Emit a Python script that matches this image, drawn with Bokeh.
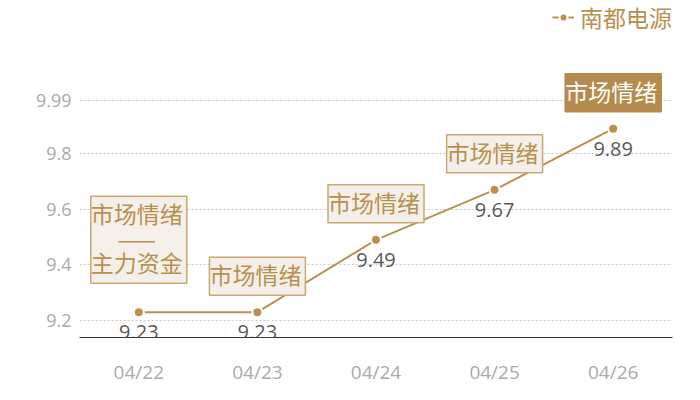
from bokeh.plotting import figure
from bokeh.models import (FactorRange, Range1d, FixedTicker, ColumnDataSource,
                          Legend, LegendItem, LabelSet)
from bokeh.core.properties import value
from bokeh.embed import file_html
from bokeh.resources import INLINE

dates = ["04/22", "04/23", "04/24", "04/25", "04/26"]
prices = [9.23, 9.23, 9.49, 9.67, 9.89]
value_labels = ["9.23", "9.23", "9.49", "9.67", "9.89"]
notes = ["市场情绪\n——\n主力资金", "市场情绪", "市场情绪", "市场情绪", "市场情绪"]
y_ticks = [9.2, 9.4, 9.6, 9.8, 9.99]
y_tick_labels = ["9.2", "9.4", "9.6", "9.8", "9.99"]
series_name = "南都电源"

GOLD = "#b8904f"
CJK = "Noto Sans CJK SC"

note_fill = ["#f4efe8"] * 4 + ["#b48b4c"]
note_border = ["#c9a872"] * 4 + ["#b48b4c"]
note_text = [GOLD] * 4 + ["#ffffff"]
note_offset = [-29, -17, -17, -17, -17]

src = ColumnDataSource(dict(date=dates, price=prices, vlabel=value_labels))
nsrc = ColumnDataSource(dict(date=dates, price=prices, note=notes, fill=note_fill,
                             border=note_border, tcol=note_text, off=note_offset))

p = figure(width=700, height=400, x_range=FactorRange(*dates),
           y_range=Range1d(9.1388, 10.351), output_backend="svg",
           toolbar_location=None, min_border_left=79, min_border_right=28,
           min_border_top=0, min_border_bottom=63)
p.outline_line_color = None
p.background_fill_color = "white"
p.border_fill_color = "white"

p.xgrid.visible = False
p.ygrid.ticker = FixedTicker(ticks=y_ticks)
p.ygrid.grid_line_color = "#c8c8c8"
p.ygrid.grid_line_dash = "2 2"

xa = p.xaxis[0]
xa.axis_line_color = "#333333"
xa.major_tick_line_color = None
xa.major_tick_out = 0
xa.major_tick_in = 0
xa.minor_tick_line_color = None
xa.major_label_text_color = "#aaaaaa"
xa.major_label_text_font = "Open Sans"
xa.major_label_text_font_size = "19px"
xa.major_label_standoff = 21

ya = p.yaxis[0]
ya.ticker = FixedTicker(ticks=y_ticks)
ya.major_label_overrides = {t: l for t, l in zip(y_ticks, y_tick_labels)}
ya.axis_line_color = None
ya.major_tick_line_color = None
ya.major_tick_out = 0
ya.major_tick_in = 0
ya.minor_tick_line_color = None
ya.major_label_text_color = "#aaaaaa"
ya.major_label_text_font = "Open Sans"
ya.major_label_text_font_size = "18px"
ya.major_label_standoff = 8

r_line = p.line(x="date", y="price", source=src, line_color=GOLD, line_width=2)
r_pts = p.scatter(x="date", y="price", source=src, size=10, fill_color=GOLD,
                  line_color="white", line_width=2)

vl = LabelSet(x="date", y="price", text="vlabel", source=src, text_align="center",
              text_baseline="top", y_offset=-13, text_color="#595959",
              text_font=value("Open Sans"), text_font_size="20px")
p.add_layout(vl)

p.text(x="date", y="price", text="note", source=nsrc, text_align="center",
       text_baseline="bottom", y_offset="off", text_color="tcol",
       text_font=value(CJK), text_font_size="23px", text_line_height=0.72,
       background_fill_color="fill", border_line_color="border",
       border_line_width=1.5, padding=(0, 4, 0, 4))

legend = Legend(items=[LegendItem(label=series_name, renderers=[r_line, r_pts])],
                location="top_right", background_fill_alpha=0, border_line_color=None,
                label_text_color=GOLD, label_text_font=CJK, label_text_font_size="23px",
                glyph_width=22, glyph_height=20, label_height=20, padding=0, margin=0,
                label_standoff=6)
p.add_layout(legend)

open("out.html", "w").write(file_html(p, INLINE))
